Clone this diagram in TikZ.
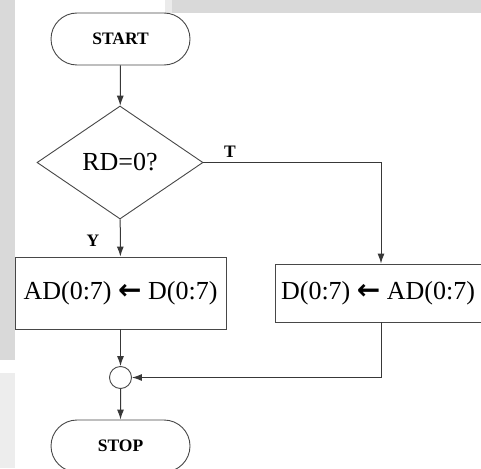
\documentclass[tikz,border=0pt]{standalone}
\usepackage{fontspec}
\setmainfont{Liberation Serif}
\newfontfamily\arrowfont{DejaVu Sans}
\usetikzlibrary{shapes.geometric,shapes.misc,arrows.meta}
\newcommand{\getsarrow}{{\arrowfont\bfseries\fontsize{28}{30}\selectfont ←}}
\tikzset{
  flow/.style={draw=black!72, line width=0.9pt},
  terminal/.style={flow, rounded rectangle, minimum width=139pt, minimum height=52pt,
    inner sep=0pt, font=\fontsize{17.5}{20}\selectfont\bfseries},
  decision/.style={flow, diamond, minimum width=166pt, minimum height=113pt,
    inner sep=0pt, font=\fontsize{26}{30}\selectfont},
  process/.style={flow, rectangle, inner sep=0pt, font=\fontsize{26}{30}\selectfont},
  joint/.style={flow, circle, minimum size=22pt, inner sep=0pt},
  link/.style={draw=black!78, line width=1pt, -{Latex[length=10pt,width=7pt]}},
  branch/.style={font=\fontsize{17.5}{20}\selectfont\bfseries, inner sep=0pt},
  wash/.style={fill=black!15, draw=none}
}
\begin{document}
\begin{tikzpicture}[x=1pt, y=-1pt]
  \clip (0,0) rectangle (481,468);
  \fill[white] (0,0) rectangle (481,468);
  % light background bands
  \fill[wash] (172,0) rectangle (481,13);
  \fill[black!8] (165,0) rectangle (172,13);
  \fill[wash] (0,0) rectangle (15,360);
  \fill[black!7] (0,373) rectangle (15,468);

  % flowchart nodes
  \node[terminal] (start) at (120.5,39) {START};
  \node[decision] (dec) at (120,162.5) {RD=0?};
  \node[process, minimum width=211pt, minimum height=72pt] (boxL) at (120.5,293)
    {AD(0:7) \getsarrow{} D(0:7)};
  \node[process, minimum width=206pt, minimum height=58pt] (boxR) at (378,293)
    {D(0:7) \getsarrow{} AD(0:7)};
  \node[joint] (junc) at (120.5,377.5) {};
  \node[terminal] (stop) at (120.5,446) {STOP};
  \coordinate (turn) at (381,162.5);

  % connectors
  \draw[link] (start) -- (dec);
  \draw[link] (dec) -- (boxL);
  \draw[link] (dec.east) -- (turn) -- (turn |- boxR.north);
  \draw[link] (boxL) -- (junc);
  \draw[link] (boxR.south -| turn) |- (junc.east);
  \draw[link] (junc) -- (stop);

  % branch labels
  \node[branch] (lblT) at (230,152) {T};
  \node[branch] (lblY) at (93,241) {Y};
\end{tikzpicture}
\end{document}
